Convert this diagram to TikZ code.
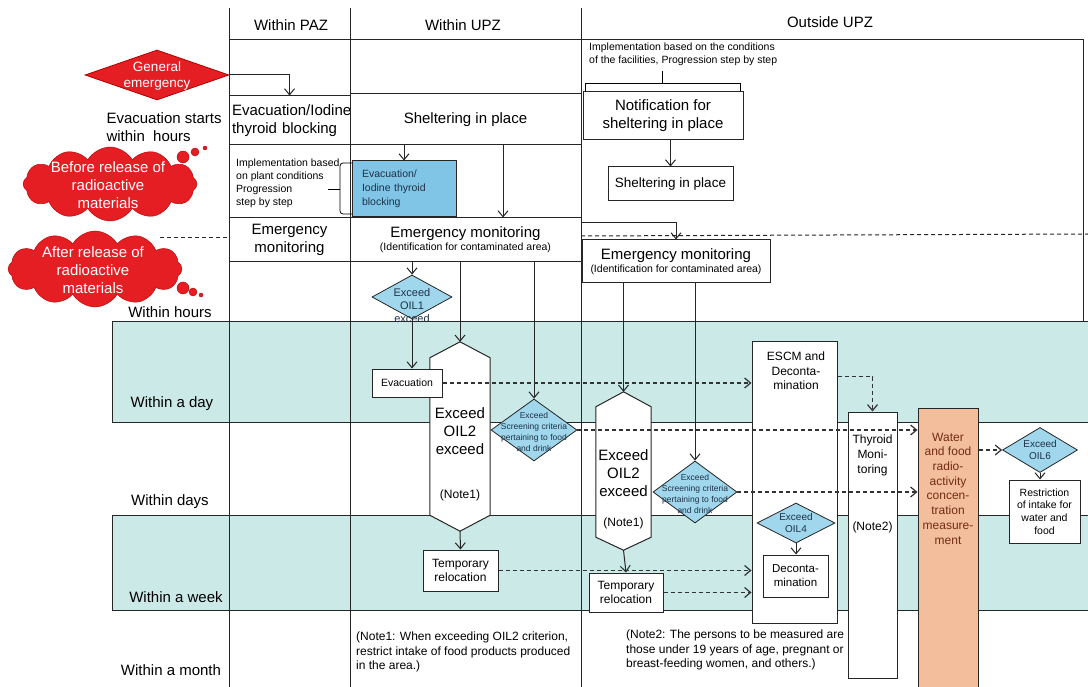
\documentclass[tikz,border=0pt]{standalone}
\usepackage{fontspec}
\setmainfont{Liberation Sans}
\usetikzlibrary{arrows.meta,shapes.geometric,shapes.symbols}

\definecolor{bandteal}{RGB}{203,233,231}
\definecolor{oilblue}{RGB}{160,215,236}
\definecolor{evblue}{RGB}{128,196,230}
\definecolor{emred}{RGB}{229,30,36}
\definecolor{waterorange}{RGB}{243,190,155}
\definecolor{waterbrown}{RGB}{115,45,20}
\definecolor{oiltext}{RGB}{30,50,70}

\newcommand{\fbig}{\fontsize{15}{18}\selectfont}
\newcommand{\fmid}{\fontsize{12}{14.5}\selectfont}
\newcommand{\fsmall}{\fontsize{10.5}{13}\selectfont}
\newcommand{\ftiny}{\fontsize{8.5}{11}\selectfont}

\begin{document}
\begin{tikzpicture}[
  x=1pt,
  y=-1pt,
  >={Straight Barb[length=6pt,width=10pt]},
  band/.style={fill=bandteal},
  frameline/.style={line width=1pt, draw=black!85},
  box/.style={draw=black!85, line width=1pt, fill=white, align=center, inner sep=2pt},
  oildia/.style={diamond, draw=black!85, line width=0.8pt, fill=oilblue, inner sep=0pt},
  reddia/.style={diamond, draw=red!70!black, line width=0.8pt, fill=emred, inner sep=0pt},
  redcloud/.style={cloud, cloud puffs=12, cloud puff arc=120, cloud ignores aspect, draw=red!70!black, fill=emred, inner sep=0pt},
  cloudtxt/.style={text=white, align=center, font=\fbig},
  bubble/.style={circle, fill=emred, draw=red!70!black, inner sep=0pt},
  hexline/.style={line width=1pt, draw=black!85, fill=white},
  flow/.style={->, line width=1pt, draw=black!85},
  dflow/.style={->, line width=1.2pt, draw=black!80, dash pattern=on 4pt off 3pt},
  bigtxt/.style={font=\fbig, align=center},
  midtxt/.style={font=\fmid, align=center},
  smalltxt/.style={font=\fsmall, align=left},
  oiltxt/.style={font=\fontsize{10}{12}\selectfont, align=center, text=oiltext},
]

\useasboundingbox (0,0) rectangle (1088,687);
\fill[white] (0,0) rectangle (1088,687);

% time bands
\fill[band] (112,322) rectangle (1088,422);
\fill[band] (112,515) rectangle (1088,610);
\draw[frameline] (1088,322) -- (112,322) -- (112,422) -- (1088,422);
\draw[frameline] (1088,515) -- (112,515) -- (112,610) -- (1088,610);

% zone columns
\draw[frameline] (229,40) -- (1083,40) -- (1083,322);
\foreach \cx in {229,350,581}
  \draw[frameline] (\cx,8) -- (\cx,687);

% release line
\draw[frameline, dash pattern=on 4pt off 3pt] (160,238) -- (229,238);
\draw[frameline, dash pattern=on 4pt off 3pt] (581,236) -- (1088,234);

% headers
\node[bigtxt] (hpaz) at (291,25) {Within PAZ};
\node[bigtxt] (hupz) at (463,25) {Within UPZ};
\node[bigtxt] (hout) at (830,22) {Outside UPZ};

% left side
\node[reddia, minimum width=144pt, minimum height=50pt] (genem) at (157,75) {};
\node[font=\fontsize{13.5}{16.5}\selectfont, text=white, align=center] (genemtxt) at (157,76) {General\\emergency};
\node[bigtxt, align=left, anchor=west] (evstart) at (103,127) {Evacuation starts\\within \ hours};

\node[redcloud, minimum width=174pt, minimum height=74pt] (before) at (110,184) {};
\node[cloudtxt] (beforetxt) at (108,185) {Before release of\\radioactive\\materials};
\node[bubble, minimum size=12pt] (bb1) at (183,157) {};
\node[bubble, minimum size=8pt] (bb2) at (195,152) {};
\node[bubble, minimum size=4pt] (bb3) at (205,148) {};

\node[redcloud, minimum width=174pt, minimum height=76pt] (after) at (95,269) {};
\node[cloudtxt] (aftertxt) at (93,270) {After release of\\radioactive\\materials};
\node[bubble, minimum size=12pt] (ab1) at (183,288) {};
\node[bubble, minimum size=8pt] (ab2) at (193,292) {};
\node[bubble, minimum size=4pt] (ab3) at (201,295) {};

\node[bigtxt] (thours) at (170,312) {Within hours};
\node[bigtxt] (tday) at (172,404) {Within a day};
\node[bigtxt] (tdays) at (170,502) {Within days};
\node[bigtxt] (tweek) at (176,597) {Within a week};
\node[bigtxt] (tmonth) at (171,670) {Within a month};

% within PAZ
\node[box, font=\fbig, minimum width=121pt, minimum height=49pt, text width=115pt, align=left, inner sep=3pt] (evacpaz) at (289.5,120.5) {Evacuation/Iodine\\thyroid blocking};
\node[box, bigtxt, minimum width=121pt, minimum height=44pt] (empaz) at (289.5,240) {Emergency\\monitoring};

% within UPZ
\node[box, bigtxt, minimum width=231pt, minimum height=51pt] (shelupz) at (465.5,119.5) {Sheltering in place};
\node[smalltxt, anchor=north west, inner sep=0pt] (implpaz) at (236,159) {Implementation based\\on plant conditions\\Progression\\step by step};
\draw[line width=0.8pt, rounded corners=3pt] (352,163) -- (340,163) -- (340,214) -- (352,214);
\draw[line width=0.8pt] (328,189) -- (340,189);
\node[box, fill=evblue, minimum width=104pt, minimum height=56pt, text width=84pt, inner xsep=10pt, align=left, font=\fontsize{10.5}{14}\selectfont, text=oiltext] (ivblock) at (404,189) {Evacuation/\\Iodine thyroid\\blocking};
\node[box, font=\fsmall, minimum width=231pt, minimum height=44pt] (emupz) at (465.5,240) {{\fbig Emergency monitoring}\\(Identification for contaminated area)};

\node[oildia, minimum width=80pt, minimum height=44pt] (oil1) at (412,297) {};
\node[font=\fontsize{11}{13}\selectfont, align=center, text=oiltext] (oil1txt) at (412,306) {Exceed\\OIL1\\exceed};

\node[minimum width=60pt, minimum height=157pt, inner sep=0pt] (oil2a) at (460,436.5) {};
\coordinate (oil2atop) at ([yshift=16pt]oil2a.north);
\coordinate (oil2abot) at ([yshift=-16pt]oil2a.south);
\filldraw[hexline] (oil2a.north west) -- (oil2atop) -- (oil2a.north east) -- (oil2a.south east) -- (oil2abot) -- (oil2a.south west) -- cycle;
\node[bigtxt] (oil2atxt) at (460,431) {Exceed\\OIL2\\exceed};
\node[midtxt] (note1a) at (460,495) {(Note1)};

\node[box, font=\fontsize{10.5}{13}\selectfont, minimum width=70pt, minimum height=28pt] (evac) at (407,383) {Evacuation};
\node[box, midtxt, minimum width=75pt, minimum height=41pt] (trela) at (460.5,570.5) {Temporary\\relocation};

\node[oildia, minimum width=86pt, minimum height=62pt] (scra) at (534,430) {};
\node[font=\ftiny, align=center, text=oiltext] (scratxt) at (534,432) {Exceed\\Screening criteria\\pertaining to food\\and drink};

\node[font=\fontsize{12}{14.5}\selectfont, align=left, anchor=north west, inner sep=0pt] (note1) at (356,632) {(Note1: When exceeding OIL2 criterion,\\ restrict intake of food products produced\\in the area.)};

% outside UPZ
\node[smalltxt, anchor=north west, inner sep=0pt] (implout) at (589,43) {Implementation based on the conditions\\of the facilities, Progression step by step};
\draw[line width=0.8pt] (585,92) -- (585,83) -- (740,83) -- (740,92);
\draw[line width=0.8pt] (662,83) -- (662,71);
\node[box, bigtxt, minimum width=160pt, minimum height=48pt] (notif) at (663,116) {Notification for\\sheltering in place};
\node[box, font=\fontsize{13.5}{16}\selectfont, minimum width=125pt, minimum height=34pt] (shelout) at (670.5,184) {Sheltering in place};
\node[box, font=\fsmall, minimum width=188pt, minimum height=43pt] (emout) at (676,261.5) {{\fbig Emergency monitoring}\\(Identification for contaminated area)};

\node[minimum width=55pt, minimum height=130pt, inner sep=0pt] (oil2b) at (623.5,472) {};
\coordinate (oil2btop) at ([yshift=15pt]oil2b.north);
\coordinate (oil2bbot) at ([yshift=-13pt]oil2b.south);
\filldraw[hexline] (oil2b.north west) -- (oil2btop) -- (oil2b.north east) -- (oil2b.south east) -- (oil2bbot) -- (oil2b.south west) -- cycle;
\node[bigtxt] (oil2btxt) at (623.5,473) {Exceed\\OIL2\\exceed};
\node[midtxt] (note1b) at (623.5,523) {(Note1)};

\node[box, midtxt, minimum width=74pt, minimum height=39pt] (trelb) at (626,592.5) {Temporary\\relocation};

\node[oildia, minimum width=84pt, minimum height=62pt] (scrb) at (695,492) {};
\node[font=\ftiny, align=center, text=oiltext] (scrbtxt) at (695,494) {Exceed\\Screening criteria\\pertaining to food\\and drink};

\node[box, minimum width=85pt, minimum height=281pt] (escm) at (794.5,482.5) {};
\node[midtxt] (escmtxt) at (796,371) {ESCM and\\Deconta-\\mination};
\node[oildia, minimum width=78pt, minimum height=40pt] (oil4) at (796,523) {};
\node[oiltxt] (oil4txt) at (796,523) {Exceed\\OIL4};
\node[box, font=\fontsize{11.5}{14}\selectfont, minimum width=65pt, minimum height=42pt] (decon) at (795.5,576) {Deconta-\\mination};

\node[box, minimum width=49pt, minimum height=266pt] (thyroid) at (872.5,545) {};
\node[font=\fontsize{12}{15}\selectfont, align=center] (thytxt) at (872.5,455) {Thyroid\\Moni-\\toring};
\node[midtxt] (note2b) at (872.5,527) {(Note2)};

\node[box, fill=waterorange, minimum width=60pt, minimum height=282pt] (water) at (948,549) {};
\node[font=\fontsize{12}{14.7}\selectfont, align=center, text=waterbrown] (watertxt) at (948,488.5) {Water\\and food\\radio-\\activity\\concen-\\tration\\measure-\\ment};

\node[oildia, minimum width=75pt, minimum height=45pt] (oil6) at (1040,450) {};
\node[oiltxt] (oil6txt) at (1040,450) {Exceed\\OIL6};
\node[box, font=\fontsize{10.5}{12.7}\selectfont, minimum width=71pt, minimum height=63pt] (restr) at (1044.5,511.5) {Restriction\\of intake for\\water and\\food};

\node[font=\fontsize{12}{14.5}\selectfont, align=left, anchor=north west, inner sep=0pt] (note2) at (626,630) {(Note2: The persons to be measured are\\those under 19 years of age, pregnant or\\breast-feeding women, and others.)};

% solid flows
\draw[flow] (genem.east) -| (evacpaz.north);
\draw[flow] (shelupz.south -| ivblock.north) -- (ivblock.north);
\draw[flow] ([xshift=37.5pt]shelupz.south) -- ([xshift=37.5pt]emupz.north);
\draw[flow] (emupz.south -| oil1.north) -- (oil1.north);
\draw[flow] (emupz.south -| oil2atop) -- (oil2atop);
\draw[flow] (emupz.south -| scra.north) -- (scra.north);
\draw[flow] (oil1.south) -- (oil1.south |- evac.north);
\draw[flow] (oil2abot) -- (trela.north);
\draw[flow] (notif.south -| shelout.north) -- (shelout.north);
\draw[flow] ([yshift=-5pt]emupz.north east) -| (emout.north);
\draw[flow] (emout.south -| oil2btop) -- (oil2btop);
\draw[flow] (emout.south -| scrb.north) -- (scrb.north);
\draw[flow] (oil2bbot) -- (trelb.north);
\draw[flow] (oil4.south) -- (oil4.south |- decon.north);
\draw[flow] (oil6.south) -- (oil6.south |- restr.north);

% dashed flows
\draw[dflow] (evac.east) -- (evac.east -| escm.west);
\draw[dflow] (scra.east) -- (scra.east -| water.west);
\draw[dflow] (scrb.east) -- (scrb.east -| water.west);
\draw[dflow] (trela.east) -- (trela.east -| escm.west);
\draw[dflow] (trelb.east) -- (trelb.east -| escm.west);
\draw[dflow] ([yshift=-35pt]escm.north east) -| (thyroid.north);
\draw[dflow] (water.east |- oil6.west) -- (oil6.west);

\end{tikzpicture}
\end{document}
